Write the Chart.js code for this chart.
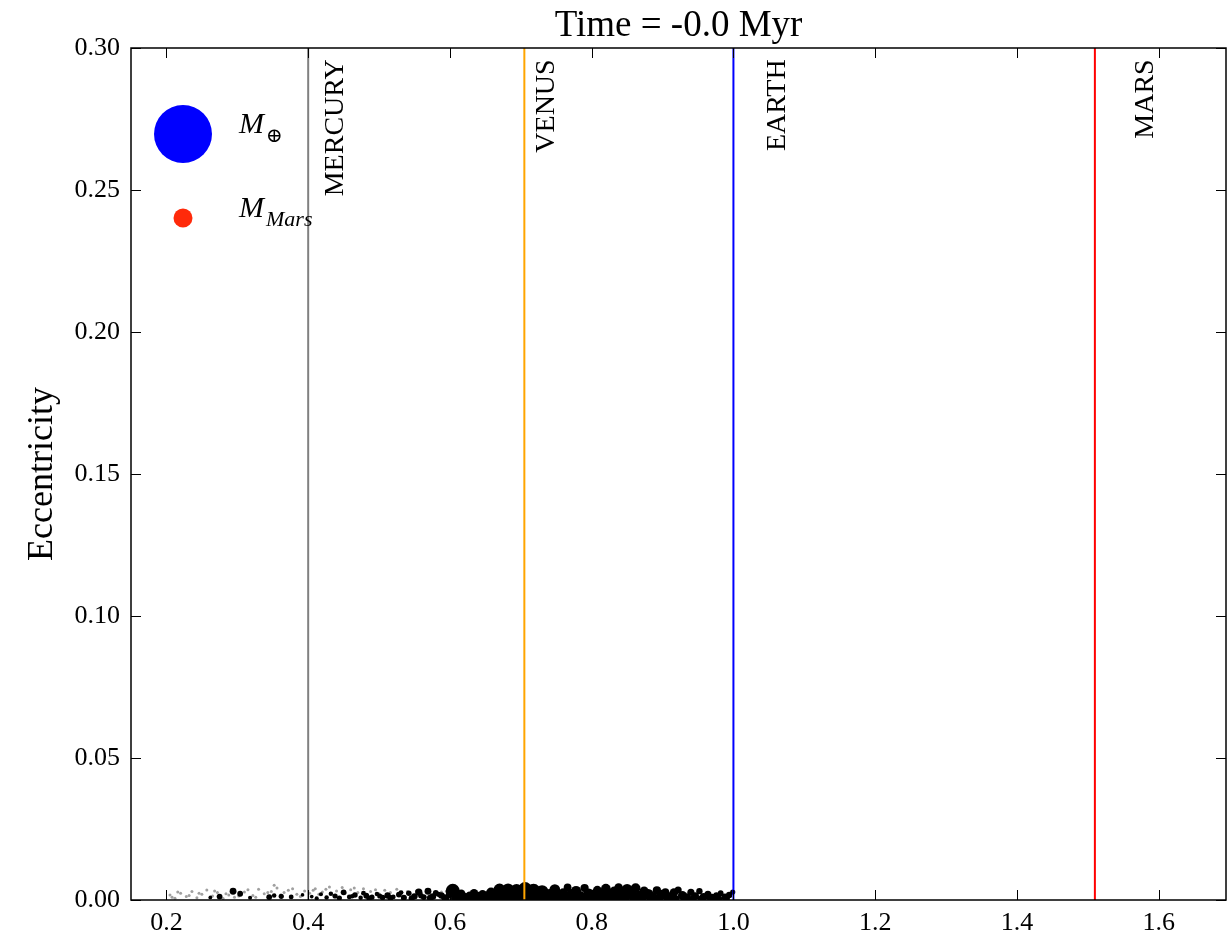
<!DOCTYPE html>
<html>
<head>
<meta charset="utf-8">
<style>body { margin: 0; background: #fff; }</style>
</head>
<body>
<canvas id="chartOrbits" width="1227" height="944"></canvas>
<script src="https://cdn.jsdelivr.net/npm/chart.js@4"></script>
<script>
// time of the snapshot (Myr)
const snapshotTime = '-0.0';

// planets: semi-major axis (AU)
const planetNames = ['MERCURY', 'VENUS', 'EARTH', 'MARS'];
const planetA = [0.400, 0.705, 1.000, 1.510];

// embryos: semi-major axis (AU), eccentricity, mass (Earth masses)
const embryoA = [
  0.262, 0.275, 0.294, 0.304, 0.318, 0.345, 0.352, 0.362, 0.376, 0.392,
  0.405, 0.418, 0.426, 0.438, 0.450, 0.458, 0.466, 0.474, 0.482, 0.490,
  0.497, 0.505, 0.512, 0.520, 0.528, 0.535, 0.542, 0.550, 0.556, 0.563,
  0.569, 0.576, 0.584, 0.592, 0.598, 0.604, 0.610, 0.616, 0.622, 0.628,
  0.634, 0.640, 0.646, 0.652, 0.658, 0.664, 0.670, 0.676, 0.682, 0.688,
  0.694, 0.700, 0.706, 0.712, 0.718, 0.724, 0.730, 0.736, 0.742, 0.748,
  0.754, 0.760, 0.766, 0.772, 0.778, 0.784, 0.790, 0.796, 0.802, 0.808,
  0.814, 0.820, 0.826, 0.832, 0.838, 0.844, 0.850, 0.856, 0.862, 0.868,
  0.874, 0.880, 0.886, 0.892, 0.898, 0.904, 0.910, 0.916, 0.922, 0.928,
  0.934, 0.940, 0.946, 0.952, 0.958, 0.964, 0.970, 0.976, 0.982, 0.988,
  0.994, 0.999,
  0.607, 0.619, 0.631, 0.643, 0.655, 0.667, 0.679, 0.691, 0.703, 0.715,
  0.727, 0.739, 0.751, 0.763, 0.775, 0.787, 0.799, 0.811, 0.823, 0.835,
  0.847, 0.859, 0.871, 0.883, 0.895, 0.907, 0.919, 0.931, 0.943, 0.955,
  0.967, 0.979, 0.991,
  0.412, 0.432, 0.444, 0.462, 0.478, 0.486, 0.501, 0.516, 0.531, 0.546,
  0.559, 0.572, 0.580, 0.588, 0.595
];
const embryoE = [
  0.0009, 0.0012, 0.0031, 0.0022, 0.0008, 0.0010, 0.0016, 0.0013, 0.0011, 0.0018,
  0.0012, 0.0020, 0.0009, 0.0014, 0.0027, 0.0011, 0.0018, 0.0008, 0.0015, 0.0010,
  0.0021, 0.0009, 0.0016, 0.0011, 0.0019, 0.0008, 0.0024, 0.0013, 0.0028, 0.0010,
  0.0031, 0.0012, 0.0020, 0.0009, 0.0017, 0.0032, 0.0012, 0.0022, 0.0008, 0.0016,
  0.0024, 0.0010, 0.0019, 0.0013, 0.0027, 0.0011, 0.0036, 0.0018, 0.0038, 0.0014,
  0.0035, 0.0020, 0.0040, 0.0012, 0.0032, 0.0016, 0.0030, 0.0010, 0.0022, 0.0037,
  0.0014, 0.0024, 0.0044, 0.0018, 0.0032, 0.0012, 0.0042, 0.0022, 0.0015, 0.0034,
  0.0020, 0.0040, 0.0012, 0.0030, 0.0044, 0.0018, 0.0036, 0.0022, 0.0042, 0.0014,
  0.0032, 0.0020, 0.0011, 0.0034, 0.0018, 0.0028, 0.0010, 0.0026, 0.0035, 0.0016,
  0.0009, 0.0027, 0.0014, 0.0031, 0.0011, 0.0020, 0.0008, 0.0016, 0.0024, 0.0010,
  0.0018, 0.0028,
  0.0006, 0.0004, 0.0008, 0.0005, 0.0003, 0.0007, 0.0006, 0.0004, 0.0009, 0.0005,
  0.0006, 0.0003, 0.0008, 0.0005, 0.0007, 0.0004, 0.0006, 0.0009, 0.0005, 0.0004,
  0.0007, 0.0006, 0.0003, 0.0008, 0.0005, 0.0006, 0.0004, 0.0007, 0.0005, 0.0003,
  0.0006, 0.0004, 0.0005,
  0.0006, 0.0022, 0.0007, 0.0013, 0.0024, 0.0006, 0.0014, 0.0007, 0.0026, 0.0006,
  0.0015, 0.0007, 0.0025, 0.0016, 0.0006
];
const embryoMass = [
  0.004, 0.010, 0.014, 0.010, 0.005, 0.010, 0.006, 0.008, 0.007, 0.004,
  0.004, 0.005, 0.006, 0.008, 0.010, 0.007, 0.009, 0.006, 0.010, 0.008,
  0.006, 0.009, 0.012, 0.007, 0.010, 0.011, 0.009, 0.012, 0.016, 0.010,
  0.014, 0.013, 0.008, 0.012, 0.010, 0.060, 0.030, 0.022, 0.028, 0.018,
  0.022, 0.034, 0.024, 0.030, 0.028, 0.038, 0.045, 0.042, 0.040, 0.048,
  0.045, 0.042, 0.052, 0.045, 0.060, 0.040, 0.048, 0.036, 0.030, 0.034,
  0.042, 0.028, 0.018, 0.040, 0.030, 0.036, 0.020, 0.034, 0.042, 0.024,
  0.036, 0.028, 0.040, 0.030, 0.022, 0.036, 0.040, 0.034, 0.028, 0.036,
  0.024, 0.034, 0.028, 0.020, 0.030, 0.018, 0.028, 0.022, 0.015, 0.024,
  0.022, 0.015, 0.018, 0.012, 0.018, 0.015, 0.018, 0.012, 0.010, 0.015,
  0.012, 0.008,
  0.018, 0.027, 0.021, 0.030, 0.024, 0.036, 0.030, 0.042, 0.033, 0.045,
  0.030, 0.039, 0.027, 0.036, 0.024, 0.033, 0.030, 0.027, 0.036, 0.024,
  0.030, 0.021, 0.027, 0.018, 0.024, 0.021, 0.015, 0.021, 0.015, 0.018,
  0.012, 0.015, 0.010,
  0.005, 0.006, 0.008, 0.006, 0.007, 0.009, 0.008, 0.010, 0.007, 0.011,
  0.009, 0.012, 0.010, 0.013, 0.012
];

// planetesimals: semi-major axis (AU), eccentricity
const planetesimalA = [
  0.205, 0.212, 0.220, 0.228, 0.236, 0.243, 0.250, 0.257, 0.265, 0.272,
  0.280, 0.288, 0.296, 0.310, 0.322, 0.330, 0.338, 0.348, 0.356, 0.366,
  0.372, 0.384, 0.395, 0.402, 0.410, 0.420, 0.430, 0.440, 0.448, 0.460,
  0.470, 0.478, 0.488, 0.500, 0.508, 0.516, 0.525, 0.540, 0.548, 0.560,
  0.572, 0.588, 0.600, 0.615, 0.632,
  0.208, 0.216, 0.232, 0.246, 0.261, 0.268, 0.284, 0.302, 0.315, 0.326,
  0.343, 0.352, 0.361, 0.378, 0.389, 0.407, 0.415, 0.425, 0.436, 0.452,
  0.465, 0.483, 0.495, 0.512, 0.532, 0.553, 0.566, 0.580, 0.595
];
const planetesimalE = [
  0.0018, 0.0006, 0.0024, 0.0012, 0.0030, 0.0008, 0.0020, 0.0035, 0.0014, 0.0026,
  0.0005, 0.0018, 0.0010, 0.0028, 0.0016, 0.0038, 0.0022, 0.0030, 0.0042, 0.0026,
  0.0034, 0.0020, 0.0032, 0.0024, 0.0040, 0.0028, 0.0046, 0.0032, 0.0044, 0.0036,
  0.0026, 0.0040, 0.0030, 0.0022, 0.0034, 0.0026, 0.0038, 0.0030, 0.0018, 0.0024,
  0.0020, 0.0028, 0.0016, 0.0020, 0.0012,
  0.0010, 0.0028, 0.0016, 0.0024, 0.0008, 0.0032, 0.0022, 0.0014, 0.0036, 0.0010,
  0.0026, 0.0052, 0.0018, 0.0040, 0.0012, 0.0034, 0.0020, 0.0038, 0.0016, 0.0024,
  0.0042, 0.0018, 0.0036, 0.0014, 0.0026, 0.0032, 0.0010, 0.0022, 0.0030
];

// legend reference masses (Earth masses)
const legendMasses = [1, 0.107];

// axes
const xTickValues = [0.2, 0.4, 0.6, 0.8, 1.0, 1.2, 1.4, 1.6];
const yTickValues = [0, 0.05, 0.10, 0.15, 0.20, 0.25, 0.30];

(function() {
    const SERIF = '"Liberation Serif", "DejaVu Serif", serif';
    const EARTH_RADIUS_PX = 29;          // marker radius of one Earth mass
    const planetColors = ['gray', '#ffa500', 'blue', 'red'];
    const labelOffsets = [0.039, 0.031, 0.062, 0.072];  // AU to the right of each line

    const radiusFor = m => EARTH_RADIUS_PX * Math.sqrt(m);

    const planetDatasets = planetNames.map((name, i) => ({
        label: name,
        data: [{x: planetA[i], y: 0}, {x: planetA[i], y: 0.3}],
        showLine: true,
        borderColor: planetColors[i],
        borderWidth: 2,
        pointRadius: 0,
        order: 0
    }));

    const embryos = {
        label: 'embryos',
        data: embryoA.map((a, i) => ({x: a, y: embryoE[i], m: embryoMass[i]})),
        backgroundColor: '#000',
        borderWidth: 0,
        pointRadius: ctx => ctx.raw ? radiusFor(ctx.raw.m) : 0,
        clip: 0,
        order: 1
    };

    const planetesimals = {
        label: 'planetesimals',
        data: planetesimalA.map((a, i) => ({x: a, y: planetesimalE[i]})),
        backgroundColor: '#a0a0a0',
        borderWidth: 0,
        pointRadius: 1.5,
        clip: 0,
        order: 2
    };

    // title, frame with inward ticks, planet labels and the mass legend
    const decorations = {
        id: 'decorations',
        afterDatasetsDraw(chart) {
            const {ctx, chartArea: area, scales: {x, y}} = chart;
            ctx.save();

            ctx.fillStyle = '#000';
            ctx.font = '37px ' + SERIF;
            ctx.textAlign = 'center';
            ctx.textBaseline = 'alphabetic';
            ctx.fillText('Time = ' + snapshotTime + ' Myr', (area.left + area.right) / 2, area.top - 12);

            ctx.strokeStyle = '#000';
            ctx.lineWidth = 1;
            ctx.beginPath();
            x.ticks.forEach(t => {
                const px = Math.round(x.getPixelForValue(t.value)) + 0.5;
                ctx.moveTo(px, area.bottom); ctx.lineTo(px, area.bottom - 10);
                ctx.moveTo(px, area.top); ctx.lineTo(px, area.top + 10);
            });
            y.ticks.forEach(t => {
                const py = Math.round(y.getPixelForValue(t.value)) + 0.5;
                ctx.moveTo(area.left, py); ctx.lineTo(area.left + 10, py);
                ctx.moveTo(area.right, py); ctx.lineTo(area.right - 10, py);
            });
            ctx.stroke();
            ctx.lineWidth = 1.5;
            ctx.strokeRect(area.left, area.top, area.right - area.left, area.bottom - area.top);

            // planet names, vertical, hanging from the top
            ctx.font = '28px ' + SERIF;
            ctx.textAlign = 'right';
            ctx.textBaseline = 'middle';
            planetNames.forEach((name, i) => {
                ctx.save();
                ctx.translate(x.getPixelForValue(planetA[i] + labelOffsets[i]), y.getPixelForValue(0.296));
                ctx.rotate(-Math.PI / 2);
                ctx.fillText(name, 0, 0);
                ctx.restore();
            });

            // mass legend
            const lx = area.left + 52;
            const rows = [area.top + 86, area.top + 170];
            const colors = ['blue', '#ff2a0a'];
            const subs = ['\u2295', 'Mars'];
            legendMasses.forEach((m, i) => {
                ctx.beginPath();
                ctx.fillStyle = colors[i];
                ctx.arc(lx, rows[i], radiusFor(m), 0, Math.PI * 2);
                ctx.fill();
                ctx.fillStyle = '#000';
                ctx.textAlign = 'left';
                ctx.textBaseline = 'alphabetic';
                ctx.font = 'italic 30px ' + SERIF;
                const tx = area.left + 108;
                ctx.fillText('M', tx, rows[i] - 1);
                const w = ctx.measureText('M').width;
                ctx.font = (i === 0 ? '20px ' : 'italic 22px ') + SERIF;
                ctx.fillText(subs[i], tx + w + 2, rows[i] + 8);
            });

            ctx.restore();
        }
    };

    new Chart(document.getElementById('chartOrbits').getContext('2d'), {
        type: 'scatter',
        data: {datasets: [...planetDatasets, embryos, planetesimals]},
        options: {
            responsive: false,
            animation: false,
            layout: {autoPadding: false, padding: {left: 0, right: 1, top: 48, bottom: 0}},
            plugins: {
                legend: {display: false},
                tooltip: {enabled: false},
                title: {display: false}
            },
            scales: {
                x: {
                    type: 'linear',
                    min: 0.15,
                    max: 1.695,
                    grid: {display: false, drawTicks: false},
                    border: {display: false},
                    afterBuildTicks: s => { s.ticks = xTickValues.map(v => ({value: v})); },
                    afterFit: s => { s.height = 44; },
                    ticks: {
                        color: '#000',
                        padding: 8,
                        maxRotation: 0,
                        font: {family: SERIF, size: 26},
                        callback: v => v.toFixed(1)
                    }
                },
                y: {
                    type: 'linear',
                    min: 0,
                    max: 0.3,
                    grid: {display: false, drawTicks: false},
                    border: {display: false},
                    afterBuildTicks: s => { s.ticks = yTickValues.map(v => ({value: v})); },
                    afterFit: s => { s.width = 131; },
                    title: {
                        display: true,
                        text: 'Eccentricity',
                        color: '#000',
                        font: {family: SERIF, size: 36},
                        padding: {top: 21, bottom: 0}
                    },
                    ticks: {
                        color: '#000',
                        padding: 11,
                        font: {family: SERIF, size: 26},
                        callback: v => v.toFixed(2)
                    }
                }
            }
        },
        plugins: [decorations]
    });
})();
</script>
</body>
</html>
